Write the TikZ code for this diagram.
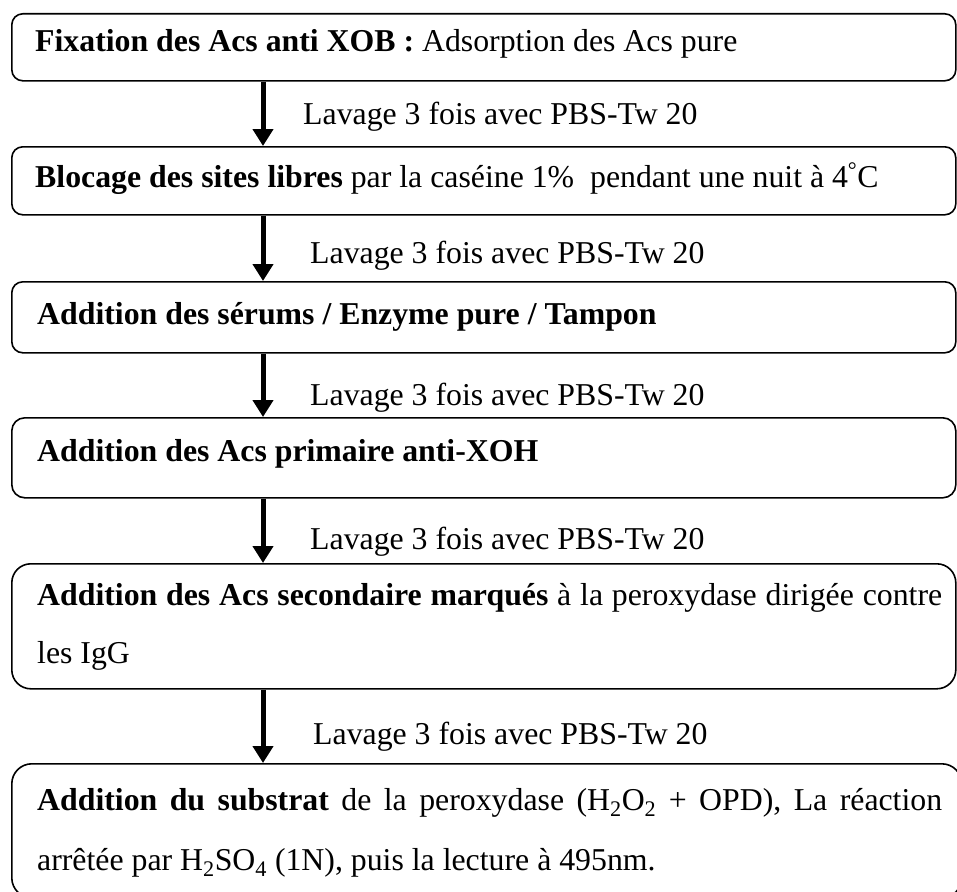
\documentclass[tikz,border=0pt]{standalone}
\usepackage{fontspec}
\setmainfont{Liberation Serif}
\usetikzlibrary{arrows.meta}
\begin{document}
\begin{tikzpicture}[x=1pt,y=-1pt,
  box/.style={draw=black,line width=1.6pt,rectangle,inner sep=0pt,anchor=north west},
  txt/.style={anchor=base west,inner sep=0pt,font=\fontsize{31.8pt}{38pt}\selectfont},
  arr/.style={line width=5pt,-{Triangle[width=20pt,length=17pt]}}]
\useasboundingbox (0,0) rectangle (957,891);
\coordinate (ax) at (263,0);
% boxes
\node[box,rounded corners=11pt,minimum width=944pt,minimum height=67pt] (b1) at (11,13) {};
\node[box,rounded corners=11pt,minimum width=944pt,minimum height=68pt] (b2) at (11,146) {};
\node[box,rounded corners=11pt,minimum width=944pt,minimum height=71pt] (b3) at (11,281) {};
\node[box,rounded corners=13pt,minimum width=944pt,minimum height=80pt] (b4) at (11,417) {};
\node[box,rounded corners=19pt,minimum width=944pt,minimum height=125pt] (b5) at (11,563) {};
\node[box,rounded corners=20pt,minimum width=950pt,minimum height=134pt] (b6) at (11,763) {};
% texts
\node[txt] (t1) at (35,52) {\textbf{Fixation des Acs anti XOB :} Adsorption des Acs pure};
\node[txt] (t2) at (35,187) {\textbf{Blocage des sites libres} par la caséine 1\%~ pendant une nuit à 4\textsuperscript{°}C};
\node[txt] (t3) at (37,324) {\textbf{Addition des sérums / Enzyme pure / Tampon}};
\node[txt] (t4) at (37,461) {\textbf{Addition des Acs primaire anti-XOH}};
\node[txt] (t5a) at (37,605) {\makebox[905pt][s]{\textbf{Addition des Acs secondaire marqués} à la peroxydase dirigée contre}};
\node[txt] (t5b) at (37,663) {les IgG};
\node[txt] (t6a) at (37,810) {\makebox[905pt][s]{\textbf{Addition du substrat} de la peroxydase (H\textsubscript{2}O\textsubscript{2} + OPD), La réaction}};
\node[txt] (t6b) at (37,870) {arrêtée par H\textsubscript{2}SO\textsubscript{4} (1N), puis la lecture à 495nm.};
% labels
\node[txt] (l1) at (303,124) {Lavage 3 fois avec PBS-Tw 20};
\node[txt] (l2) at (310,263) {Lavage 3 fois avec PBS-Tw 20};
\node[txt] (l3) at (310,405) {Lavage 3 fois avec PBS-Tw 20};
\node[txt] (l4) at (310,549) {Lavage 3 fois avec PBS-Tw 20};
\node[txt] (l5) at (313,744) {Lavage 3 fois avec PBS-Tw 20};
% arrows
\draw[arr] (b1.south -| ax) -- (b2.north -| ax);
\draw[arr] (b2.south -| ax) -- (b3.north -| ax);
\draw[arr] (b3.south -| ax) -- (b4.north -| ax);
\draw[arr] (b4.south -| ax) -- (b5.north -| ax);
\draw[arr] (b5.south -| ax) -- (b6.north -| ax);
\end{tikzpicture}
\end{document}
